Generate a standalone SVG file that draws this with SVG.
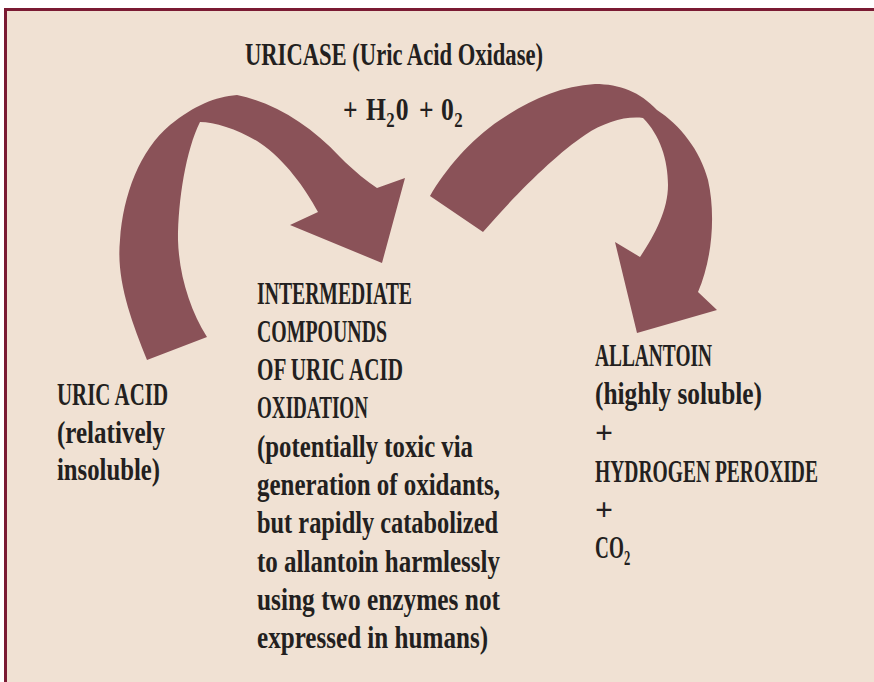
<svg xmlns="http://www.w3.org/2000/svg" width="874" height="682" viewBox="0 0 874 682">
  <defs>
    <style>
      .t { font-family: "Liberation Serif", "Times New Roman", serif; font-weight: bold; font-size: 32px; fill: #231f20; }
      .sub { font-size: 21px; }
      .arrow { fill: #8a5258; stroke: none; }
      .frame { fill: #7a1a33; }
    </style>
  </defs>
  <rect x="0" y="0" width="874" height="682" fill="#ffffff"/>
  <rect x="7" y="11" width="867" height="671" fill="#f0e1d3"/>
  <rect class="frame" x="4" y="8" width="870" height="3"/>
  <rect class="frame" x="4" y="8" width="3" height="674"/>

  <g id="connectors">
    <path class="arrow" d="M147,360 C131,320 116,280 120,240 C123,195 140,150 170,125 C195,105 215,97 237,95 C275,103 310,125 340,157 C355,172 368,182 377,188 L405,178 L382,263 L290,225 L318,212 C305,188 285,160 260,143 C240,130 215,122 200,122 C186,150 178,200 178,240 C179,275 190,310 207,337 Z"/>
    <path class="arrow" d="M430,196 C445,170 470,140 500,120 C530,100 560,86 595,84 C620,84 640,92 657,110 C680,125 700,150 708,180 C716,215 712,260 698,292 L717,310 L637,333 L615,242 L640,257 C655,235 668,210 668,185 C668,160 660,135 643,118 C625,116 605,122 585,135 C555,155 515,195 483,232 Z"/>
  </g>

  <g id="uricase">
    <text class="t" x="245" y="65" textLength="298" lengthAdjust="spacingAndGlyphs">URICASE (Uric Acid Oxidase)</text>
  </g>

  <g id="reagents">
    <text class="t" transform="translate(343,120) scale(0.8,1)"><tspan x="0" y="0">+</tspan><tspan x="28.75" y="0">H</tspan><tspan class="sub" x="54" y="7">2</tspan><tspan x="66" y="0">0</tspan><tspan x="95" y="0">+</tspan><tspan x="122.5" y="0">0</tspan><tspan class="sub" x="139" y="7">2</tspan></text>
  </g>

  <g id="uric-acid">
    <text class="t" x="57" y="405" textLength="111" lengthAdjust="spacingAndGlyphs">URIC ACID</text>
    <text class="t" x="57" y="443" textLength="108" lengthAdjust="spacingAndGlyphs">(relatively</text>
    <text class="t" x="57" y="480" textLength="103" lengthAdjust="spacingAndGlyphs">insoluble)</text>
  </g>

  <g id="intermediate">
    <text class="t" x="257" y="304" textLength="155" lengthAdjust="spacingAndGlyphs">INTERMEDIATE</text>
    <text class="t" x="257" y="342" textLength="130" lengthAdjust="spacingAndGlyphs">COMPOUNDS</text>
    <text class="t" x="257" y="380" textLength="146" lengthAdjust="spacingAndGlyphs">OF URIC ACID</text>
    <text class="t" x="257" y="418" textLength="111" lengthAdjust="spacingAndGlyphs">OXIDATION</text>
    <text class="t" x="257" y="457" textLength="216" lengthAdjust="spacingAndGlyphs">(potentially toxic via</text>
    <text class="t" x="257" y="495" textLength="243" lengthAdjust="spacingAndGlyphs">generation of oxidants,</text>
    <text class="t" x="257" y="533" textLength="241" lengthAdjust="spacingAndGlyphs">but rapidly catabolized</text>
    <text class="t" x="257" y="572" textLength="243" lengthAdjust="spacingAndGlyphs">to allantoin harmlessly</text>
    <text class="t" x="257" y="610" textLength="243" lengthAdjust="spacingAndGlyphs">using two enzymes not</text>
    <text class="t" x="257" y="648" textLength="231" lengthAdjust="spacingAndGlyphs">expressed in humans)</text>
  </g>

  <g id="allantoin">
    <text class="t" x="595" y="366" textLength="117" lengthAdjust="spacingAndGlyphs">ALLANTOIN</text>
    <text class="t" x="595" y="404" textLength="167" lengthAdjust="spacingAndGlyphs">(highly soluble)</text>
    <text class="t" x="595" y="443" textLength="18" lengthAdjust="spacingAndGlyphs">+</text>
    <text class="t" transform="translate(595,482) scale(0.61,1)" x="0" y="0" textLength="365.6" lengthAdjust="spacingAndGlyphs">HYDROGEN PEROXIDE</text>
    <text class="t" x="595" y="520" textLength="18" lengthAdjust="spacingAndGlyphs">+</text>
    <text class="t" transform="translate(595,558) scale(0.6,1)"><tspan x="0" y="0">C</tspan><tspan x="23.3" y="0">O</tspan><tspan class="sub" x="48.3" y="7">2</tspan></text>
  </g>
</svg>
